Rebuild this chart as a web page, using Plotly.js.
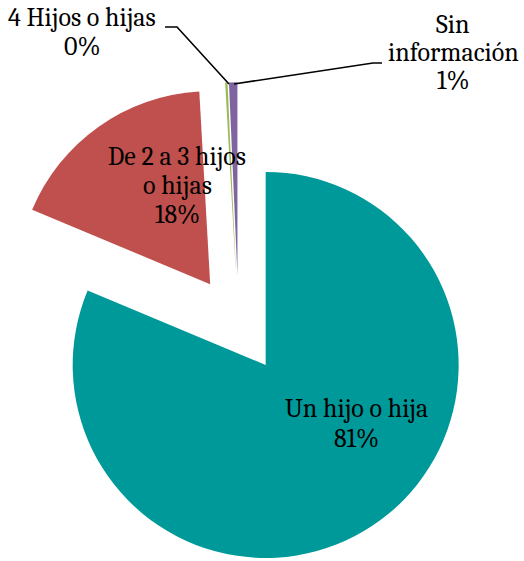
<!DOCTYPE html>
<html>
<head>
<meta charset="utf-8">
<script src="https://cdn.plot.ly/plotly-3.0.1.min.js"></script>
<style>
  html, body { margin: 0; padding: 0; overflow: hidden; background: #fff; width: 524px; height: 561px; }
  #chart { position: absolute; left: -10px; top: 0; width: 534px; height: 570px; }
</style>
</head>
<body>
<div id="chart"></div>
<script>
// ---- data ----
var labelLines = [['Un hijo o hija'], ['De 2 a 3 hijos', 'o hijas'], ['4 Hijos o hijas'], ['Sin', 'información']];
var labels = labelLines.map(function (l) { return l.join(' '); });
var values = [81.3, 17.8, 0.2, 0.7];
var colors = ['#009999', '#C0504D', '#9BBB59', '#8064A2'];

// ---- layout helpers (page pixels -> paper) ----
var W = 534, H = 570, OX = -10;
function px(x) { return (x - OX) / W; }
function py(y) { return 1 - y / H; }
var FS = 26;
var FONT = { family: 'Caladea', size: FS, color: '#000' };

// label placement: centre x and first baseline, line spacing
var labelPos = [
  { cx: 356, base: 418, step: 30 },
  { cx: 177, base: 166, step: 29 },
  { cx: 82, base: 27, step: 29 },
  { cx: 453, base: 34, step: 28 }
];

var annotations = [];
labels.forEach(function (lab, i) {
  var lines = labelLines[i].concat([Math.round(values[i]) + '%']);
  var p = labelPos[i];
  lines.forEach(function (t, k) {
    var base = p.base + k * p.step;
    annotations.push({
      text: t, showarrow: false, xref: 'paper', yref: 'paper',
      x: px(p.cx), y: py(base - 0.36 * FS), xanchor: 'center', yanchor: 'middle',
      font: FONT
    });
  });
});

function path(pts) {
  return pts.map(function (p, k) {
    return (k ? 'L' : 'M') + px(p[0]) + ',' + py(p[1]);
  }).join(' ');
}
var shapes = [
  { type: 'path', xref: 'paper', yref: 'paper', path: path([[165, 27], [177, 27], [229, 84]]), line: { color: '#000', width: 1.6 } },
  { type: 'path', xref: 'paper', yref: 'paper', path: path([[234, 84], [373, 63], [382, 63]]), line: { color: '#000', width: 1.6 } }
];

var trace = {
  type: 'pie',
  labels: labels,
  values: values,
  sort: false,
  direction: 'clockwise',
  rotation: 0,
  pull: [0.254, 0.254, 0.254, 0.254],
  marker: { colors: colors, line: { width: 0 } },
  textinfo: 'none',
  hoverinfo: 'label+percent',
  domain: { x: [0.01217, 0.91854], y: [0.00667, 0.85579] }
};

var layout = {
  width: W, height: H,
  margin: { l: 0, r: 0, t: 0, b: 0 },
  showlegend: false,
  paper_bgcolor: '#fff',
  font: { family: 'Caladea' },
  annotations: annotations,
  shapes: shapes
};

Plotly.newPlot('chart', [trace], layout, { staticPlot: true, displayModeBar: false });
</script>
</body>
</html>
